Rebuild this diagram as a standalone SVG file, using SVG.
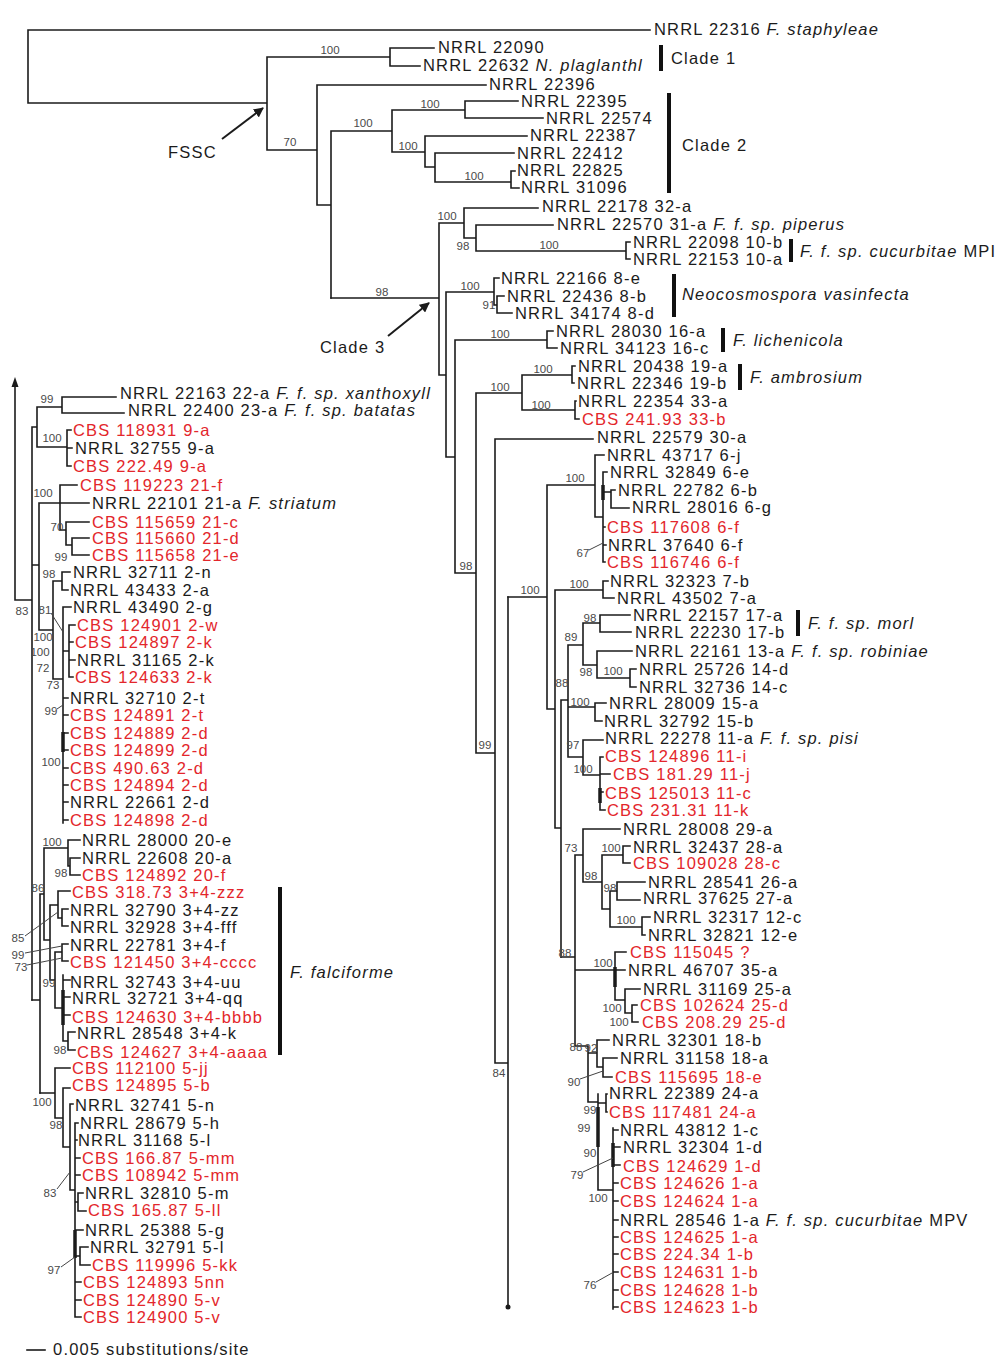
<svg xmlns="http://www.w3.org/2000/svg" width="1001" height="1358" viewBox="0 0 1001 1358">
<style>
.t{font-family:"Liberation Sans",Arial,sans-serif;font-size:16.5px;letter-spacing:1.2px;fill:#1b1b1b}
.r{fill:#e3262b}
.i{font-style:italic}
.s{font-family:"Liberation Sans",Arial,sans-serif;font-size:11.5px;fill:#4a4a4a;text-anchor:middle}
.e{fill:none;stroke:#1b1b1b;stroke-width:1.6;stroke-linecap:square}
.k{fill:none;stroke:#1b1b1b;stroke-width:3.5}
.b{fill:none;stroke:#111;stroke-width:4}
.l{fill:none;stroke:#444;stroke-width:1}
.a{fill:none;stroke:#1b1b1b;stroke-width:2}
</style>
<defs>
<marker id="ah" viewBox="0 0 10 10" refX="9" refY="5" markerWidth="5" markerHeight="5" orient="auto"><path d="M0,0L10,5L0,10z" fill="#1b1b1b"/></marker>
</defs>
<rect width="1001" height="1358" fill="#fff"/>
<g id="connectors">
<path class="e" d="M28,30H650M28,30V103M28,103H267M267,57V150M267,57H390M390,48V66M390,48H434M390,66H420M267,150H317M317,85V205M317,85H486M317,205H331M331,131V298M331,131H392M392,110V152M392,110H465M465,101V118M465,101H518M465,118H543M392,152H425M425,136V167M425,136H527M425,167H435M435,153V182M435,153H514M435,182H511M511,171V188M511,171H515M511,188H519"/>
<path class="e" d="M331,298H439M439,223V375M439,223H464M464,208V238M464,208H538M464,238H476M476,225V251M476,225H553M476,251H626M626,242V259M626,242H630M626,259H630M439,375H446M446,292V457M446,292H494M494,278V305M494,278H499M494,305H497M497,296V313M497,296H504M497,313H512M446,457H455M455,340V573M455,340H547M547,331V348M547,331H553M547,348H557M455,573H476M476,393V753M476,393H522M522,375V410M522,375H572M572,366V383M572,366H575M572,383H574M522,410H575M575,401V419M575,401H576M575,419H579M476,753H495M495,439V1063M495,439H593M495,1063H508M508,597V1305"/>
<path class="e" d="M508,597H547M547,485V709M547,485H595M595,455V517M595,455H604M595,517H603M603,472V562M603,472H607M603,492H611M611,490V508M611,490H615M611,508H629M603,527H605M603,545H606M603,562H605M547,709H555M555,590V828M555,590H603M603,581V598M603,581H608M603,598H614M555,828H561M561,700V957M561,700H568M568,645V757M568,645H583M583,623V665M583,623H600M600,615V632M600,615H630M600,632H631M583,665H597M597,651V678M597,651H632M597,678H630M630,669V687M630,669H636M630,687H636M568,707H595M595,703V721M595,703H606M595,721H602M568,757H583M583,740V775M583,740H603M583,775H600M600,757V810M600,757H603M600,774H610M600,792H603M600,810H605"/>
<path class="e" d="M561,957H575M575,855V1046M575,855H583M583,829V882M583,829H620M583,882H602M602,855V909M602,855H623M623,846V863M623,846H630M623,863H630M602,909H610M610,891V927M610,891H617M617,882V900M617,882H645M617,900H640M610,927H642M642,917V935M642,917H650M642,935H645M575,970H615M615,952V1000M615,952H626M615,970H625M615,1000H625M625,989V1013M625,989H640M625,1013H632M632,1005V1022M632,1005H637M632,1022H638M575,1046H588M588,1046V1102M588,1053H597M597,1040V1067M597,1040H609M597,1067H603M603,1058V1077M603,1058H617M603,1077H612M588,1102H598M598,1094V1190M598,1103H606M606,1094V1112M606,1094H607M606,1112H607M598,1190H613M613,1128V1309M613,1130H618M613,1147H620M613,1165H620M613,1183H618M613,1201H618M613,1220H618M613,1237H618M613,1254H618M613,1272H618M613,1290H618M613,1307H618"/>
<path class="e" d="M15,386V600M15,600H32M32,427V1000M32,427H37M37,407V447M37,407H62M62,397V413M62,397H116M62,413H124M37,447H67M67,430V466M67,430H71M67,448H72M67,466H71M32,565H39M39,503V630M39,503H89M60,485V530M60,485H77M60,530H66M66,522V545M66,522H89M66,545H72M72,538V555M72,538H89M72,555H89M39,630H53M53,581V679M53,581H62M62,572V590M62,572H70M62,590H68M53,679H63M63,607V823M63,607H71M63,651H69M69,625V677M69,625H75M69,642H73M69,660H75M69,677H73M63,698H68M63,715H68M63,733H68M63,750H68M63,768H68M63,785H68M63,802H68M63,820H68"/>
<path class="e" d="M32,1000H40M40,894V1093M40,894H44M44,848V940M44,848H68M68,840V866M68,840H80M68,866H70M70,858V875M70,858H80M70,875H80M44,940H50M50,905V980M50,905H58M58,891V918M58,891H70M58,918H62M62,909V926M62,909H68M62,926H68M50,980H55M55,952V1008M55,952H62M62,944V961M62,944H68M62,961H68M55,1008H63M63,975V1041M63,980H70M63,997H70M63,1015H70M63,1041H68M68,1032V1050M68,1032H75M68,1050H75"/>
<path class="e" d="M40,1093H55M55,1068V1118M55,1068H70M55,1118H63M63,1088V1147M63,1088H70M63,1147H70M70,1104V1190M70,1104H73M70,1190H75M75,1123V1317M75,1123H78M75,1140H77M75,1158H80M75,1175H80M75,1202H78M78,1193V1211M78,1193H83M78,1211H86M75,1230H83M75,1256H80M80,1247V1265M80,1247H88M80,1265H90M75,1282H81M75,1300H81M75,1317H81"/>
<path class="k" d="M603,485V500M600,788V803M615,967V987M598,1107V1147M613,1143V1167M63,732V752M63,990V1025M75,1230V1258"/>
<path class="l" d="M589,550L603,543M580,1079L603,1071M583,1172L613,1158M596,1282L612,1273M51,613L63,632M57,709L63,705M25,936L58,912M25,953L62,946M27,965L62,958M57,1189L70,1172M61,1267L75,1257"/>
<path class="e" d="M27,1350H45"/>
<polygon points="15,377 11.5,387 18.5,387" fill="#1b1b1b"/>
<circle cx="508" cy="1307" r="2.5" fill="#1b1b1b"/>
<path class="a" d="M222,139L263,108" marker-end="url(#ah)"/>
<path class="a" d="M388,336L429,303" marker-end="url(#ah)"/>
<path class="b" d="M661,45V71M669,93V193M791,239V262M674,274V317M723,328V352M740,364V390M798,610V636M280,887V1055"/>
</g>
<g id="annotations">
<text class="t" x="168" y="158">FSSC</text>
<text class="t" x="320" y="353">Clade 3</text>
<text class="t" x="671" y="64">Clade 1</text>
<text class="t" x="682" y="151">Clade 2</text>
<text class="t" x="800" y="257"><tspan class="i">F. f. sp. cucurbitae</tspan> MPI</text>
<text class="t i" x="682" y="300">Neocosmospora vasinfecta</text>
<text class="t i" x="733" y="346">F. lichenicola</text>
<text class="t i" x="750" y="383">F. ambrosium</text>
<text class="t i" x="808" y="629">F. f. sp. morl</text>
<text class="t i" x="290" y="978">F. falciforme</text>
<text class="t" x="53" y="1355">0.005 substitutions/site</text>
</g>
<g id="support">
<text class="s" x="330" y="54">100</text><text class="s" x="290" y="146">70</text><text class="s" x="363" y="127">100</text><text class="s" x="430" y="108">100</text><text class="s" x="408" y="150">100</text><text class="s" x="474" y="180">100</text>
<text class="s" x="382" y="296">98</text><text class="s" x="447" y="220">100</text><text class="s" x="463" y="250">98</text><text class="s" x="549" y="249">100</text><text class="s" x="470" y="290">100</text><text class="s" x="489" y="309">91</text><text class="s" x="500" y="338">100</text><text class="s" x="543" y="373">100</text><text class="s" x="500" y="391">100</text><text class="s" x="541" y="409">100</text>
<text class="s" x="466" y="570">98</text><text class="s" x="575" y="482">100</text><text class="s" x="583" y="557">67</text><text class="s" x="530" y="594">100</text><text class="s" x="579" y="588">100</text><text class="s" x="590" y="622">98</text><text class="s" x="571" y="641">89</text><text class="s" x="586" y="676">98</text><text class="s" x="613" y="675">100</text><text class="s" x="562" y="687">88</text><text class="s" x="580" y="706">100</text><text class="s" x="573" y="749">97</text><text class="s" x="485" y="749">99</text><text class="s" x="583" y="773">100</text>
<text class="s" x="571" y="852">73</text><text class="s" x="611" y="852">100</text><text class="s" x="591" y="880">98</text><text class="s" x="610" y="892">98</text><text class="s" x="626" y="924">100</text><text class="s" x="565" y="957">88</text><text class="s" x="603" y="967">100</text><text class="s" x="612" y="1012">100</text><text class="s" x="619" y="1026">100</text><text class="s" x="576" y="1051">88</text><text class="s" x="591" y="1052">92</text><text class="s" x="499" y="1077">84</text><text class="s" x="574" y="1086">90</text><text class="s" x="590" y="1114">99</text><text class="s" x="584" y="1132">99</text><text class="s" x="590" y="1157">90</text><text class="s" x="577" y="1179">79</text><text class="s" x="598" y="1202">100</text><text class="s" x="590" y="1289">76</text>
<text class="s" x="47" y="403">99</text><text class="s" x="52" y="442">100</text><text class="s" x="43" y="497">100</text><text class="s" x="57" y="531">70</text><text class="s" x="61" y="561">99</text><text class="s" x="49" y="578">98</text><text class="s" x="22" y="615">83</text><text class="s" x="45" y="614">81</text><text class="s" x="43" y="641">100</text><text class="s" x="40" y="656">100</text><text class="s" x="43" y="672">72</text><text class="s" x="53" y="689">73</text><text class="s" x="51" y="715">99</text><text class="s" x="51" y="766">100</text>
<text class="s" x="52" y="846">100</text><text class="s" x="61" y="877">98</text><text class="s" x="38" y="892">86</text><text class="s" x="18" y="942">85</text><text class="s" x="18" y="959">99</text><text class="s" x="21" y="971">73</text><text class="s" x="49" y="987">99</text><text class="s" x="60" y="1054">98</text><text class="s" x="42" y="1106">100</text><text class="s" x="56" y="1129">98</text><text class="s" x="50" y="1197">83</text><text class="s" x="54" y="1274">97</text>
</g>
<g id="tip-1"><text class="t" x="654" y="35">NRRL 22316 <tspan class="i">F. staphyleae</tspan></text></g>
<g id="tip-2"><text class="t" x="438" y="53">NRRL 22090</text></g>
<g id="tip-3"><text class="t" x="423" y="71">NRRL 22632 <tspan class="i">N. plaglanthl</tspan></text></g>
<g id="tip-4"><text class="t" x="489" y="90">NRRL 22396</text></g>
<g id="tip-5"><text class="t" x="521" y="107">NRRL 22395</text></g>
<g id="tip-6"><text class="t" x="546" y="124">NRRL 22574</text></g>
<g id="tip-7"><text class="t" x="530" y="141">NRRL 22387</text></g>
<g id="tip-8"><text class="t" x="517" y="159">NRRL 22412</text></g>
<g id="tip-9"><text class="t" x="517" y="176">NRRL 22825</text></g>
<g id="tip-10"><text class="t" x="521" y="193">NRRL 31096</text></g>
<g id="tip-11"><text class="t" x="542" y="212">NRRL 22178 32-a</text></g>
<g id="tip-12"><text class="t" x="557" y="230">NRRL 22570 31-a <tspan class="i">F. f. sp. piperus</tspan></text></g>
<g id="tip-13"><text class="t" x="633" y="248">NRRL 22098 10-b</text></g>
<g id="tip-14"><text class="t" x="633" y="265">NRRL 22153 10-a</text></g>
<g id="tip-15"><text class="t" x="501" y="284">NRRL 22166 8-e</text></g>
<g id="tip-16"><text class="t" x="507" y="302">NRRL 22436 8-b</text></g>
<g id="tip-17"><text class="t" x="515" y="319">NRRL 34174 8-d</text></g>
<g id="tip-18"><text class="t" x="556" y="337">NRRL 28030 16-a</text></g>
<g id="tip-19"><text class="t" x="560" y="354">NRRL 34123 16-c</text></g>
<g id="tip-20"><text class="t" x="578" y="372">NRRL 20438 19-a</text></g>
<g id="tip-21"><text class="t" x="577" y="389">NRRL 22346 19-b</text></g>
<g id="tip-22"><text class="t" x="578" y="407">NRRL 22354 33-a</text></g>
<g id="tip-23"><text class="t r" x="582" y="425">CBS 241.93 33-b</text></g>
<g id="tip-24"><text class="t" x="597" y="443">NRRL 22579 30-a</text></g>
<g id="tip-25"><text class="t" x="607" y="461">NRRL 43717 6-j</text></g>
<g id="tip-26"><text class="t" x="610" y="478">NRRL 32849 6-e</text></g>
<g id="tip-27"><text class="t" x="618" y="496">NRRL 22782 6-b</text></g>
<g id="tip-28"><text class="t" x="632" y="513">NRRL 28016 6-g</text></g>
<g id="tip-29"><text class="t r" x="607" y="533">CBS 117608 6-f</text></g>
<g id="tip-30"><text class="t" x="608" y="551">NRRL 37640 6-f</text></g>
<g id="tip-31"><text class="t r" x="607" y="568">CBS 116746 6-f</text></g>
<g id="tip-32"><text class="t" x="610" y="587">NRRL 32323 7-b</text></g>
<g id="tip-33"><text class="t" x="617" y="604">NRRL 43502 7-a</text></g>
<g id="tip-34"><text class="t" x="633" y="621">NRRL 22157 17-a</text></g>
<g id="tip-35"><text class="t" x="635" y="638">NRRL 22230 17-b</text></g>
<g id="tip-36"><text class="t" x="635" y="657">NRRL 22161 13-a <tspan class="i">F. f. sp. robiniae</tspan></text></g>
<g id="tip-37"><text class="t" x="639" y="675">NRRL 25726 14-d</text></g>
<g id="tip-38"><text class="t" x="639" y="693">NRRL 32736 14-c</text></g>
<g id="tip-39"><text class="t" x="609" y="709">NRRL 28009 15-a</text></g>
<g id="tip-40"><text class="t" x="604" y="727">NRRL 32792 15-b</text></g>
<g id="tip-41"><text class="t" x="605" y="744">NRRL 22278 11-a <tspan class="i">F. f. sp. pisi</tspan></text></g>
<g id="tip-42"><text class="t r" x="605" y="762">CBS 124896 11-i</text></g>
<g id="tip-43"><text class="t r" x="613" y="780">CBS 181.29 11-j</text></g>
<g id="tip-44"><text class="t r" x="605" y="799">CBS 125013 11-c</text></g>
<g id="tip-45"><text class="t r" x="607" y="816">CBS 231.31 11-k</text></g>
<g id="tip-46"><text class="t" x="623" y="835">NRRL 28008 29-a</text></g>
<g id="tip-47"><text class="t" x="633" y="853">NRRL 32437 28-a</text></g>
<g id="tip-48"><text class="t r" x="633" y="869">CBS 109028 28-c</text></g>
<g id="tip-49"><text class="t" x="648" y="888">NRRL 28541 26-a</text></g>
<g id="tip-50"><text class="t" x="643" y="904">NRRL 37625 27-a</text></g>
<g id="tip-51"><text class="t" x="653" y="923">NRRL 32317 12-c</text></g>
<g id="tip-52"><text class="t" x="648" y="941">NRRL 32821 12-e</text></g>
<g id="tip-53"><text class="t r" x="630" y="958">CBS 115045 ?</text></g>
<g id="tip-54"><text class="t" x="628" y="976">NRRL 46707 35-a</text></g>
<g id="tip-55"><text class="t" x="643" y="995">NRRL 31169 25-a</text></g>
<g id="tip-56"><text class="t r" x="640" y="1011">CBS 102624 25-d</text></g>
<g id="tip-57"><text class="t r" x="642" y="1028">CBS 208.29 25-d</text></g>
<g id="tip-58"><text class="t" x="612" y="1046">NRRL 32301 18-b</text></g>
<g id="tip-59"><text class="t" x="620" y="1064">NRRL 31158 18-a</text></g>
<g id="tip-60"><text class="t r" x="615" y="1083">CBS 115695 18-e</text></g>
<g id="tip-61"><text class="t" x="609" y="1099">NRRL 22389 24-a</text></g>
<g id="tip-62"><text class="t r" x="609" y="1118">CBS 117481 24-a</text></g>
<g id="tip-63"><text class="t" x="620" y="1136">NRRL 43812 1-c</text></g>
<g id="tip-64"><text class="t" x="623" y="1153">NRRL 32304 1-d</text></g>
<g id="tip-65"><text class="t r" x="623" y="1172">CBS 124629 1-d</text></g>
<g id="tip-66"><text class="t r" x="620" y="1189">CBS 124626 1-a</text></g>
<g id="tip-67"><text class="t r" x="620" y="1207">CBS 124624 1-a</text></g>
<g id="tip-68"><text class="t" x="620" y="1226">NRRL 28546 1-a <tspan class="i">F. f. sp. cucurbitae</tspan> MPV</text></g>
<g id="tip-69"><text class="t r" x="620" y="1243">CBS 124625 1-a</text></g>
<g id="tip-70"><text class="t r" x="620" y="1260">CBS 224.34 1-b</text></g>
<g id="tip-71"><text class="t r" x="620" y="1278">CBS 124631 1-b</text></g>
<g id="tip-72"><text class="t r" x="620" y="1296">CBS 124628 1-b</text></g>
<g id="tip-73"><text class="t r" x="620" y="1313">CBS 124623 1-b</text></g>
<g id="tip-74"><text class="t" x="120" y="399">NRRL 22163 22-a <tspan class="i">F. f. sp. xanthoxyll</tspan></text></g>
<g id="tip-75"><text class="t" x="128" y="416">NRRL 22400 23-a <tspan class="i">F. f. sp. batatas</tspan></text></g>
<g id="tip-76"><text class="t r" x="73" y="436">CBS 118931 9-a</text></g>
<g id="tip-77"><text class="t" x="75" y="454">NRRL 32755 9-a</text></g>
<g id="tip-78"><text class="t r" x="73" y="472">CBS 222.49 9-a</text></g>
<g id="tip-79"><text class="t r" x="80" y="491">CBS 119223 21-f</text></g>
<g id="tip-80"><text class="t" x="92" y="509">NRRL 22101 21-a <tspan class="i">F. striatum</tspan></text></g>
<g id="tip-81"><text class="t r" x="92" y="528">CBS 115659 21-c</text></g>
<g id="tip-82"><text class="t r" x="92" y="544">CBS 115660 21-d</text></g>
<g id="tip-83"><text class="t r" x="92" y="561">CBS 115658 21-e</text></g>
<g id="tip-84"><text class="t" x="73" y="578">NRRL 32711 2-n</text></g>
<g id="tip-85"><text class="t" x="70" y="596">NRRL 43433 2-a</text></g>
<g id="tip-86"><text class="t" x="73" y="613">NRRL 43490 2-g</text></g>
<g id="tip-87"><text class="t r" x="77" y="631">CBS 124901 2-w</text></g>
<g id="tip-88"><text class="t r" x="75" y="648">CBS 124897 2-k</text></g>
<g id="tip-89"><text class="t" x="77" y="666">NRRL 31165 2-k</text></g>
<g id="tip-90"><text class="t r" x="75" y="683">CBS 124633 2-k</text></g>
<g id="tip-91"><text class="t" x="70" y="704">NRRL 32710 2-t</text></g>
<g id="tip-92"><text class="t r" x="70" y="721">CBS 124891 2-t</text></g>
<g id="tip-93"><text class="t r" x="70" y="739">CBS 124889 2-d</text></g>
<g id="tip-94"><text class="t r" x="70" y="756">CBS 124899 2-d</text></g>
<g id="tip-95"><text class="t r" x="70" y="774">CBS 490.63 2-d</text></g>
<g id="tip-96"><text class="t r" x="70" y="791">CBS 124894 2-d</text></g>
<g id="tip-97"><text class="t" x="70" y="808">NRRL 22661 2-d</text></g>
<g id="tip-98"><text class="t r" x="70" y="826">CBS 124898 2-d</text></g>
<g id="tip-99"><text class="t" x="82" y="846">NRRL 28000 20-e</text></g>
<g id="tip-100"><text class="t" x="82" y="864">NRRL 22608 20-a</text></g>
<g id="tip-101"><text class="t r" x="82" y="881">CBS 124892 20-f</text></g>
<g id="tip-102"><text class="t r" x="72" y="898">CBS 318.73 3+4-zzz</text></g>
<g id="tip-103"><text class="t" x="70" y="916">NRRL 32790 3+4-zz</text></g>
<g id="tip-104"><text class="t" x="70" y="933">NRRL 32928 3+4-fff</text></g>
<g id="tip-105"><text class="t" x="70" y="951">NRRL 22781 3+4-f</text></g>
<g id="tip-106"><text class="t r" x="70" y="968">CBS 121450 3+4-cccc</text></g>
<g id="tip-107"><text class="t" x="70" y="988">NRRL 32743 3+4-uu</text></g>
<g id="tip-108"><text class="t" x="72" y="1004">NRRL 32721 3+4-qq</text></g>
<g id="tip-109"><text class="t r" x="72" y="1023">CBS 124630 3+4-bbbb</text></g>
<g id="tip-110"><text class="t" x="77" y="1039">NRRL 28548 3+4-k</text></g>
<g id="tip-111"><text class="t r" x="77" y="1058">CBS 124627 3+4-aaaa</text></g>
<g id="tip-112"><text class="t r" x="72" y="1074">CBS 112100 5-jj</text></g>
<g id="tip-113"><text class="t r" x="72" y="1091">CBS 124895 5-b</text></g>
<g id="tip-114"><text class="t" x="75" y="1111">NRRL 32741 5-n</text></g>
<g id="tip-115"><text class="t" x="80" y="1129">NRRL 28679 5-h</text></g>
<g id="tip-116"><text class="t" x="78" y="1146">NRRL 31168 5-l</text></g>
<g id="tip-117"><text class="t r" x="82" y="1164">CBS 166.87 5-mm</text></g>
<g id="tip-118"><text class="t r" x="82" y="1181">CBS 108942 5-mm</text></g>
<g id="tip-119"><text class="t" x="85" y="1199">NRRL 32810 5-m</text></g>
<g id="tip-120"><text class="t r" x="88" y="1216">CBS 165.87 5-ll</text></g>
<g id="tip-121"><text class="t" x="85" y="1236">NRRL 25388 5-g</text></g>
<g id="tip-122"><text class="t" x="90" y="1253">NRRL 32791 5-l</text></g>
<g id="tip-123"><text class="t r" x="92" y="1271">CBS 119996 5-kk</text></g>
<g id="tip-124"><text class="t r" x="83" y="1288">CBS 124893 5nn</text></g>
<g id="tip-125"><text class="t r" x="83" y="1306">CBS 124890 5-v</text></g>
<g id="tip-126"><text class="t r" x="83" y="1323">CBS 124900 5-v</text></g>
</svg>
